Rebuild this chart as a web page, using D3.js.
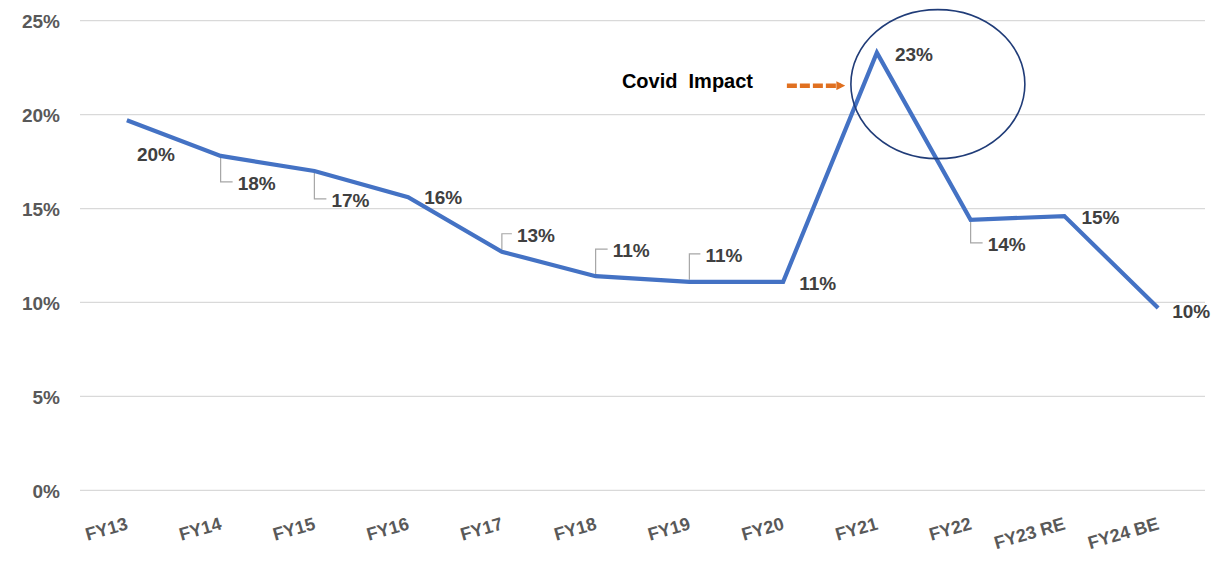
<!DOCTYPE html>
<html>
<head>
<meta charset="utf-8">
<script src="https://cdn.jsdelivr.net/npm/d3@7"></script>
<style>
  html, body { margin: 0; padding: 0; background: #fff; }
  svg { display: block; }
  text { font-family: "Liberation Sans", Arial, sans-serif; }
</style>
</head>
<body>
<svg id="chart" width="1217" height="562"></svg>
<script>
// ---- data ----
const categories = ["FY13","FY14","FY15","FY16","FY17","FY18","FY19","FY20","FY21","FY22","FY23 RE","FY24 BE"];
const values = [19.7, 17.8, 17.0, 15.6, 12.7, 11.4, 11.1, 11.1, 23.3, 14.4, 14.6, 9.7];
const yTicks = [0, 5, 10, 15, 20, 25];
const annotationText = "Covid  Impact";
const annotationCategory = "FY21";

// label placement (vertical shift in px from the point; leader drawn when shift is large)
const labelShift = [34, 27, 29, 0, -17, -26, -27, 1, 2, 24, 1, 3];
const labelGap = [10, 17, 17, 16, 15, 17, 16, 16, 18, 17, 17, 14];

(function () {
// ---- layout ----
const svg = d3.select("#chart");
const plotL = 80, plotR = 1205, plotT = 20.7, plotB = 490.3;

const x = d3.scalePoint().domain(categories).range([plotL, plotR]).padding(0.5);
const y = d3.scaleLinear().domain([0, 25]).range([plotB, plotT]);

// gridlines
svg.append("g").selectAll("line").data(yTicks).join("line")
  .attr("x1", plotL).attr("x2", plotR)
  .attr("y1", d => y(d)).attr("y2", d => y(d))
  .attr("stroke", "#d9d9d9").attr("stroke-width", 1.3);

// y axis labels
const yAxis = d3.axisLeft(y).tickValues(yTicks).tickFormat(d => d + "%").tickSize(0).tickPadding(0);
const gy = svg.append("g").attr("transform", `translate(60,0)`).call(yAxis);
gy.select(".domain").remove();
gy.selectAll("text")
  .attr("fill", "#595959").attr("font-size", 19).attr("font-weight", "bold")
  .style("font-family", '"Liberation Sans", Arial, sans-serif')
  .attr("dy", "0.36em");

// x axis labels (rotated)
const xAxis = d3.axisBottom(x).tickSize(0).tickPadding(0);
const gx = svg.append("g").call(xAxis);
gx.select(".domain").remove();
gx.selectAll(".tick").attr("transform", d => `translate(${x(d) + 2},529)`);
gx.selectAll("text")
  .attr("y", 0).attr("dy", 0)
  .attr("text-anchor", "end")
  .attr("transform", "rotate(-16)")
  .attr("fill", "#595959").attr("font-size", 18).attr("font-weight", "bold")
  .style("font-family", '"Liberation Sans", Arial, sans-serif');

// leader lines
const pts = categories.map((c, i) => ({ c, v: values[i], i }));
svg.append("g").selectAll("path")
  .data(pts.filter(p => Math.abs(labelShift[p.i]) > 12 && p.i > 0))
  .join("path")
  .attr("d", p => {
    const px = x(p.c), py = y(p.v);
    const ly = py + labelShift[p.i] - 1;
    const s = Math.sign(labelShift[p.i]);
    return `M${px},${py + s * 2}L${px},${ly}L${px + labelGap[p.i] - 5},${ly}`;
  })
  .attr("fill", "none").attr("stroke", "#a6a6a6").attr("stroke-width", 1.2);

// line
const line = d3.line().x(p => x(p.c)).y(p => y(p.v));
svg.append("path").datum(pts)
  .attr("d", line)
  .attr("fill", "none").attr("stroke", "#4472c4").attr("stroke-width", 4.2)
  .attr("stroke-linejoin", "miter");

// data labels
const fmt = d3.format(".0f");
svg.append("g").selectAll("text").data(pts).join("text")
  .attr("x", p => x(p.c) + labelGap[p.i])
  .attr("y", p => y(p.v) + labelShift[p.i])
  .attr("dy", "0.36em")
  .attr("fill", "#404040").attr("font-size", 19).attr("font-weight", "bold")
  .text(p => fmt(p.v) + "%");

// annotation: ellipse around the peak
const peakX = x(annotationCategory);
const peakY = y(values[categories.indexOf(annotationCategory)]);
svg.append("ellipse")
  .attr("cx", peakX + 61).attr("cy", peakY + 31.5)
  .attr("rx", 87).attr("ry", 74.5)
  .attr("fill", "none").attr("stroke", "#203c78").attr("stroke-width", 1.6);

// annotation text
svg.append("text")
  .attr("x", peakX - 255).attr("y", peakY + 35)
  .attr("fill", "#000").attr("font-size", 20).attr("font-weight", "bold")
  .style("white-space", "pre")
  .text(annotationText);

// dashed orange arrow
const defs = svg.append("defs");
defs.append("marker").attr("id", "arr")
  .attr("viewBox", "0 0 10 10").attr("refX", 5).attr("refY", 5)
  .attr("markerWidth", 2).attr("markerHeight", 2).attr("orient", "auto")
  .append("path").attr("d", "M0,0L10,5L0,10Z").attr("fill", "#e07020");
svg.append("line")
  .attr("x1", peakX - 90).attr("x2", peakX - 36)
  .attr("y1", peakY + 33).attr("y2", peakY + 33)
  .attr("stroke", "#e07020").attr("stroke-width", 4.5)
  .attr("stroke-dasharray", "10,3")
  .attr("marker-end", "url(#arr)");
})();
</script>
</body>
</html>
